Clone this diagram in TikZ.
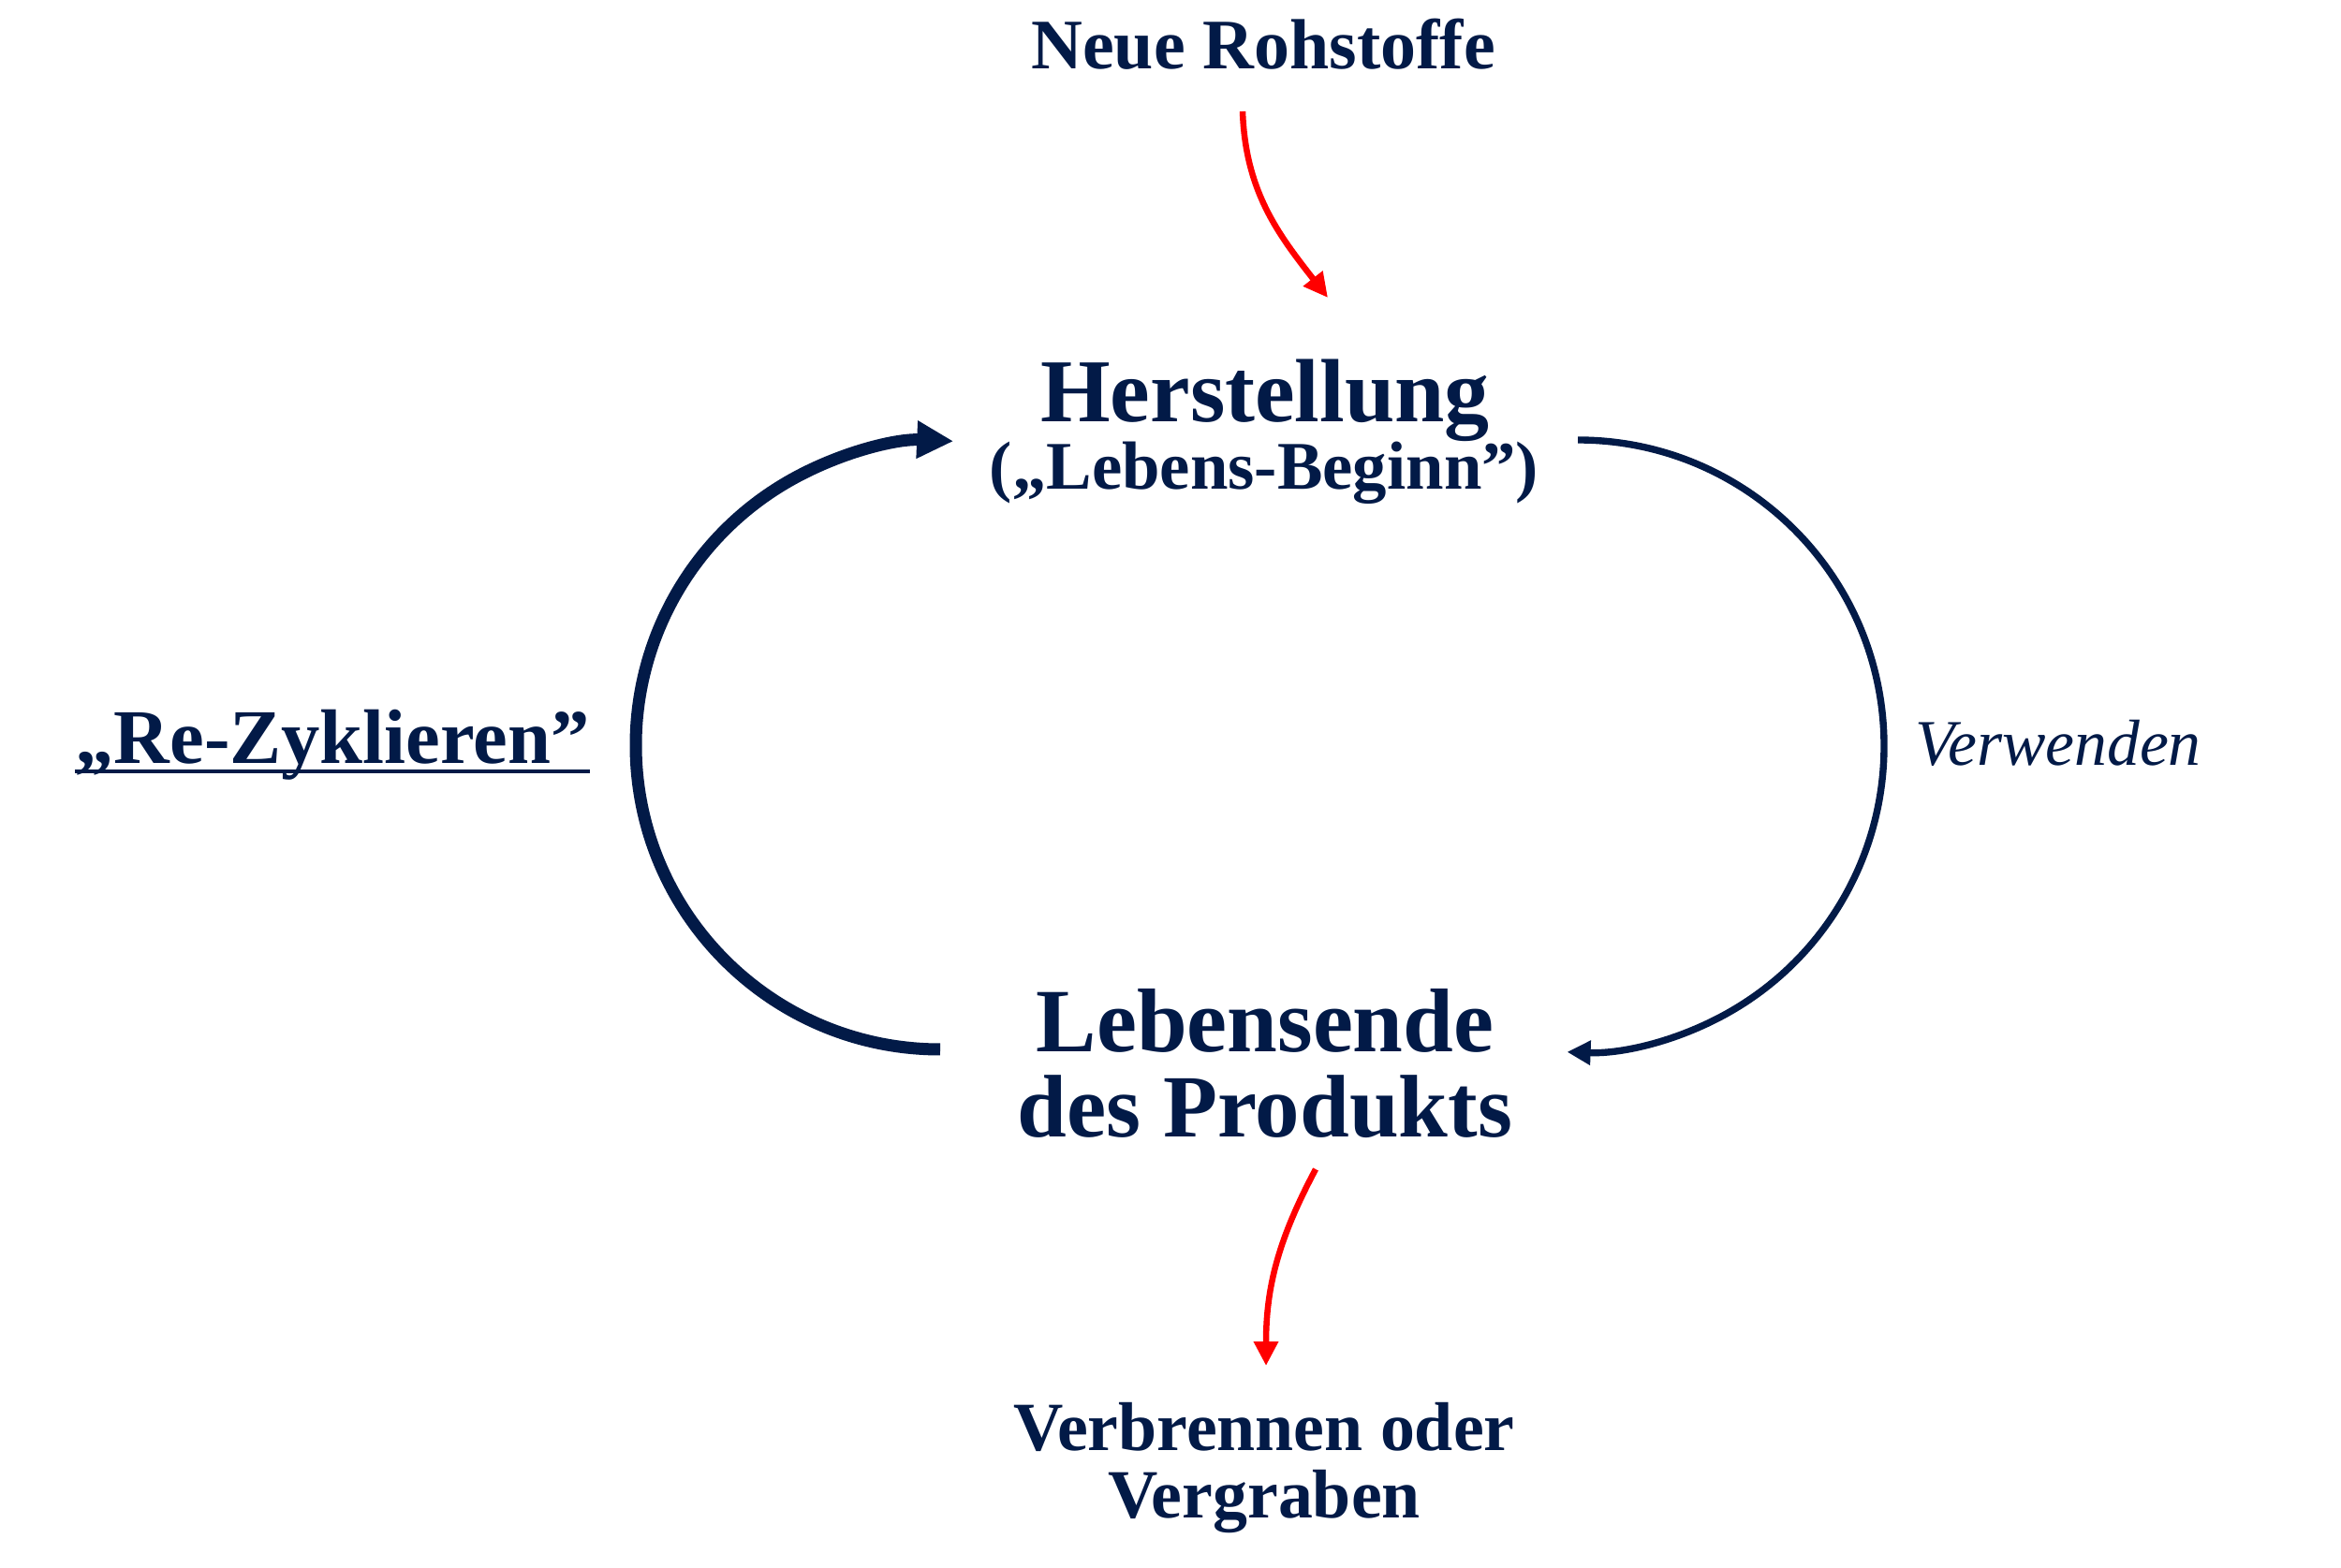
\documentclass[tikz,border=0pt]{standalone}
\usepackage{fontspec}
\setmainfont{Liberation Serif}
\usetikzlibrary{arrows.meta}
\definecolor{navy}{HTML}{021A47}
\definecolor{rred}{HTML}{FF0000}
\begin{document}
\begin{tikzpicture}[
  lbl/.style={inner sep=0pt, anchor=base, text=navy},
  bigarrow/.style={navy, line width=3.7pt, -{Triangle[length=0.39cm, width=0.38cm]}},
  thinarrow/.style={navy, line width=2.1pt, -{Triangle[length=0.25cm, width=0.25cm]}},
  redarrow/.style={rred, line width=1.85pt, -{Triangle[length=0.26cm, width=0.25cm]}}
]
\useasboundingbox (0,0) rectangle (25,16.74);

% texts
\node[lbl, font=\fontsize{21.6}{24}\selectfont\bfseries] (neu) at (13.49,16.00) {Neue Rohstoffe};
\node[lbl, font=\fontsize{27.3}{30}\selectfont\bfseries] (her) at (13.51,12.23) {Herstellung};
\node[lbl, font=\fontsize{20.7}{24}\selectfont\bfseries] (beg) at (13.50,11.51) {(„Lebens-Beginn”)};
\node[lbl, font=\fontsize{27.5}{30}\selectfont\bfseries] (end) at (13.51,5.50) {Lebensende};
\node[lbl, font=\fontsize{27.0}{30}\selectfont\bfseries] (prod) at (13.51,4.59) {des Produkts};
\node[lbl, font=\fontsize{23.5}{26}\selectfont\bfseries] (rz) at (3.55,8.58) {„Re-Zyklieren”};
\node[lbl, font=\fontsize{19.8}{22}\selectfont\itshape] (verw) at (21.98,8.56) {Verwenden};
\node[lbl, font=\fontsize{21.0}{24}\selectfont\bfseries] (verb) at (13.50,1.25) {Verbrennen oder};
\node[lbl, font=\fontsize{21.0}{24}\selectfont\bfseries] (verg) at (13.50,0.53) {Vergraben};

% underline of Re-Zyklieren
\draw[navy, line width=0.9pt] ([yshift=-0.08cm]rz.base west) -- ([yshift=-0.08cm]rz.base east);

% cycle arcs
\coordinate (lb) at (10.04,5.53);
\coordinate (rt) at (16.85,12.04);
\draw[bigarrow] (lb) arc[start angle=270, end angle=87.5, radius=3.25];
\draw[thinarrow] (rt) arc[start angle=90, end angle=-92, radius=3.27];

% red arrows
\coordinate (r1s) at (13.27,15.55);
\coordinate (r1e) at (14.18,13.56);
\draw[redarrow] (r1s) to[out=-88, in=128] (r1e);
\coordinate (r2s) at (14.05,4.25);
\coordinate (r2e) at (13.52,2.15);
\draw[redarrow] (r2s) to[out=-118, in=90] (r2e);
\end{tikzpicture}
\end{document}
